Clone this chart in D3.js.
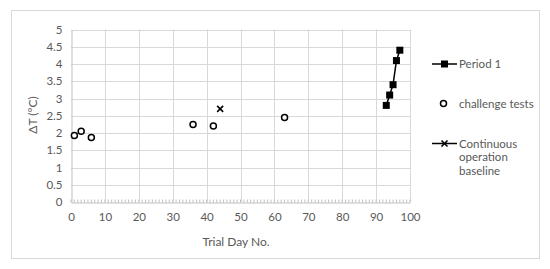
<!DOCTYPE html>
<html>
<head>
<meta charset="utf-8">
<script src="https://cdn.jsdelivr.net/npm/d3@7"></script>
<style>
  body { margin: 0; background: #fff; }
  svg text { font-family: Lato, "Liberation Sans", sans-serif; fill: #595959; }
</style>
</head>
<body>
<svg width="550" height="269"></svg>
<script>
// data
const period1Days = [93, 94, 95, 96, 97];
const period1Vals = [2.8, 3.1, 3.4, 4.1, 4.4];
const challengeDays = [1, 3, 6, 36, 42, 63];
const challengeVals = [1.93, 2.05, 1.87, 2.25, 2.2, 2.45];
const baselineDays = [44];
const baselineVals = [2.7];
const xTicks = [0, 10, 20, 30, 40, 50, 60, 70, 80, 90, 100];
const yTicks = [0, 0.5, 1, 1.5, 2, 2.5, 3, 3.5, 4, 4.5, 5];

const svg = d3.select("svg"),
    width = +svg.attr("width"),
    height = +svg.attr("height");

// chart frame
svg.append("rect")
  .attr("x", 11.5).attr("y", 10.5)
  .attr("width", 528).attr("height", 248)
  .attr("fill", "#fff").attr("stroke", "#d9d9d9");

const x = d3.scaleLinear().domain([0, 100]).range([71, 410]);
const y = d3.scaleLinear().domain([0, 5]).range([202, 29.5]);

// gridlines
const grid = svg.append("g");
grid.selectAll(".hg").data(yTicks.slice(1)).enter()
  .append("line")
  .attr("x1", x(0)).attr("x2", x(100))
  .attr("y1", d => Math.round(y(d)) + 0.5).attr("y2", d => Math.round(y(d)) + 0.5)
  .attr("stroke", "#d9d9d9");
grid.selectAll(".vg").data(xTicks.slice(1)).enter()
  .append("line")
  .attr("y1", y(0)).attr("y2", y(5))
  .attr("x1", d => Math.round(x(d)) + 0.5).attr("x2", d => Math.round(x(d)) + 0.5)
  .attr("stroke", "#d9d9d9");

// axes
const xAxis = svg.append("g")
  .attr("transform", `translate(0,${Math.round(y(0)) + 0.5})`)
  .call(d3.axisBottom(x).tickValues(xTicks).tickSize(0).tickPadding(10));
xAxis.select(".domain").attr("stroke", "#bfbfbf");
xAxis.selectAll("text").style("font-size", "11.5px");

// minor ticks on the x axis
xAxis.selectAll(".minor").data(d3.range(0, 101, 1)).enter()
  .append("line")
  .attr("x1", d => x(d)).attr("x2", d => x(d))
  .attr("y1", 0).attr("y2", -3)
  .attr("stroke", "#bfbfbf");

const yAxis = svg.append("g")
  .attr("transform", `translate(${Math.round(x(0)) + 0.5},0)`)
  .call(d3.axisLeft(y).tickValues(yTicks).tickSize(0).tickPadding(9).tickFormat(d => d));
yAxis.select(".domain").attr("stroke", "#bfbfbf");
yAxis.selectAll("text").style("font-size", "11.5px");

// axis titles
svg.append("text")
  .attr("x", 236).attr("y", 246)
  .attr("text-anchor", "middle")
  .style("font-size", "12px")
  .text("Trial Day No.");
svg.append("text")
  .attr("transform", "translate(37,115) rotate(-90)")
  .attr("text-anchor", "middle")
  .style("font-size", "12px")
  .text("ΔT (°C)");

// series
const p1 = period1Days.map((d, i) => [d, period1Vals[i]]);
const ch = challengeDays.map((d, i) => [d, challengeVals[i]]);
const bl = baselineDays.map((d, i) => [d, baselineVals[i]]);

svg.append("path")
  .datum(p1)
  .attr("d", d3.line().x(d => x(d[0])).y(d => y(d[1])))
  .attr("fill", "none").attr("stroke", "#000").attr("stroke-width", 1.5);
svg.selectAll(".sq").data(p1).enter()
  .append("rect")
  .attr("x", d => x(d[0]) - 3.5).attr("y", d => y(d[1]) - 3.5)
  .attr("width", 7).attr("height", 7)
  .attr("fill", "#000");

svg.selectAll(".ci").data(ch).enter()
  .append("circle")
  .attr("cx", d => x(d[0])).attr("cy", d => y(d[1]))
  .attr("r", 3)
  .attr("fill", "#fff").attr("stroke", "#000").attr("stroke-width", 1.5);

function cross(g, cx, cy, s) {
  g.append("path")
    .attr("d", `M${cx - s},${cy - s}L${cx + s},${cy + s}M${cx - s},${cy + s}L${cx + s},${cy - s}`)
    .attr("stroke", "#000").attr("stroke-width", 1.6).attr("fill", "none");
}
bl.forEach(d => cross(svg, x(d[0]), y(d[1]), 3));

// legend
const lg = svg.append("g");
lg.append("line").attr("x1", 432).attr("x2", 457).attr("y1", 64).attr("y2", 64)
  .attr("stroke", "#000").attr("stroke-width", 1.5);
lg.append("rect").attr("x", 441).attr("y", 60.5).attr("width", 7).attr("height", 7).attr("fill", "#000");
lg.append("text").attr("x", 459).attr("y", 68).style("font-size", "11.5px").text("Period 1");

lg.append("circle").attr("cx", 443.5).attr("cy", 103.5).attr("r", 3)
  .attr("fill", "#fff").attr("stroke", "#000").attr("stroke-width", 1.5);
lg.append("text").attr("x", 459).attr("y", 107.5).style("font-size", "11.5px").text("challenge tests");

lg.append("line").attr("x1", 432).attr("x2", 457).attr("y1", 143.5).attr("y2", 143.5)
  .attr("stroke", "#000").attr("stroke-width", 1.5);
cross(lg, 444.5, 143.5, 3);
const ct = lg.append("text").attr("x", 459).attr("y", 147.5).style("font-size", "11.5px");
["Continuous", "operation", "baseline"].forEach((t, i) => {
  ct.append("tspan").attr("x", 459).attr("dy", i === 0 ? 0 : 13.5).text(t);
});
</script>
</body>
</html>
